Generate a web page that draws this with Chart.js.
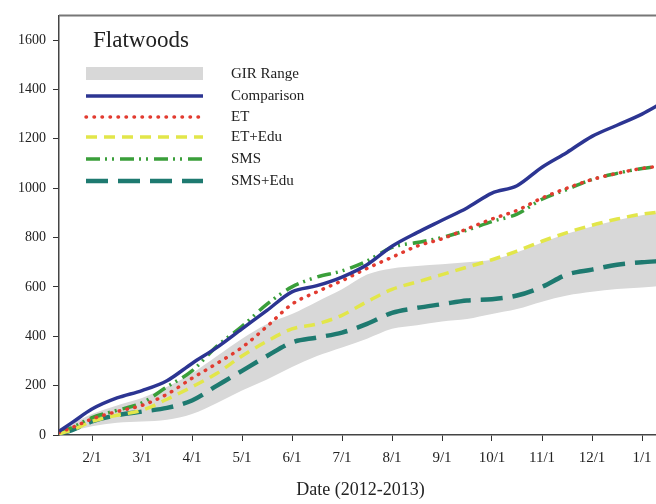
<!DOCTYPE html>
<html>
<head>
<meta charset="utf-8">
<script src="https://cdn.jsdelivr.net/npm/chart.js@4.4.0/dist/chart.umd.min.js"></script>
<style>
  html, body { margin: 0; padding: 0; overflow: hidden; background: #fff; }
  #wrap { width: 662px; height: 504px; position: relative; }
</style>
</head>
<body>
<div id="wrap"><canvas id="chart"></canvas></div>
<script>
// x positions in months after 1/1/2012 (1 = 2/1, 12 = 1/1/2013)
const months = [0.34, 0.6, 1, 1.5, 2, 2.5, 3, 3.5, 4, 4.5, 5, 5.5, 6, 6.5, 7, 7.5, 8, 8.5, 9, 9.5, 10, 10.5, 11, 11.5, 12, 12.4];
const tickLabels = ['2/1', '3/1', '4/1', '5/1', '6/1', '7/1', '8/1', '9/1', '10/1', '11/1', '12/1', '1/1'];

const comparison = [15, 50, 105, 150, 180, 220, 290, 355, 430, 505, 580, 605, 640, 690, 765, 820, 870, 920, 980, 1010, 1085, 1145, 1210, 1255, 1300, 1345];
const et = [10, 30, 65, 95, 120, 165, 230, 290, 355, 440, 530, 580, 625, 675, 720, 765, 795, 835, 875, 910, 960, 1000, 1035, 1060, 1080, 1090];
const etEdu = [5, 20, 55, 80, 100, 145, 195, 250, 320, 380, 430, 450, 485, 540, 590, 620, 650, 680, 710, 745, 785, 820, 850, 875, 895, 905];
const sms = [10, 30, 70, 100, 130, 195, 260, 360, 440, 530, 600, 640, 665, 705, 760, 780, 800, 830, 865, 895, 955, 995, 1035, 1060, 1080, 1090];
const smsEdu = [5, 20, 55, 80, 95, 110, 140, 200, 260, 320, 375, 395, 415, 450, 495, 515, 530, 545, 550, 565, 600, 650, 670, 690, 700, 705];
const girLow = [0, 15, 35, 50, 55, 62, 85, 130, 180, 225, 275, 320, 355, 390, 430, 445, 460, 470, 490, 510, 540, 565, 580, 592, 598, 605];
const girHigh = [20, 45, 85, 120, 150, 195, 250, 320, 390, 450, 490, 540, 590, 650, 675, 685, 692, 700, 710, 740, 780, 815, 845, 870, 890, 905];

const pts = arr => arr.map((v, i) => ({ x: months[i], y: v }));
const serif = '"Liberation Serif", "DejaVu Serif", serif';

const frameAndLegend = {
  id: 'frameAndLegend',
  afterDraw(chart) {
    const { ctx, chartArea: a } = chart;
    ctx.save();
    // top frame line
    ctx.strokeStyle = '#777';
    ctx.lineWidth = 2;
    ctx.beginPath();
    ctx.moveTo(a.left, a.top);
    ctx.lineTo(a.right, a.top);
    ctx.stroke();
    ctx.strokeStyle = '#444';
    ctx.lineWidth = 1.5;
    ctx.beginPath();
    ctx.moveTo(a.right, a.top);
    ctx.lineTo(a.right, a.bottom);
    ctx.stroke();

    // title inside the plot
    ctx.fillStyle = '#222';
    ctx.font = '23px ' + serif;
    ctx.textBaseline = 'middle';
    ctx.textAlign = 'left';
    ctx.fillText('Flatwoods', 93, 41);

    // legend
    const x0 = 86, x1 = 203, tx = 231;
    const rows = [74, 96, 117, 137, 159, 181];
    ctx.font = '15px ' + serif;
    const sets = chart.data.datasets.filter(d => d.inLegend);
    sets.forEach((d, i) => {
      const y = rows[i];
      if (d.legendBox) {
        ctx.fillStyle = d.backgroundColor;
        ctx.fillRect(x0, y - 7, x1 - x0, 13);
      } else {
        ctx.strokeStyle = d.borderColor;
        ctx.lineWidth = d.borderWidth;
        ctx.lineCap = d.borderCapStyle || 'butt';
        ctx.setLineDash(d.borderDash || []);
        ctx.beginPath();
        ctx.moveTo(x0, y);
        ctx.lineTo(x1, y);
        ctx.stroke();
        ctx.setLineDash([]);
      }
      ctx.fillStyle = '#222';
      ctx.fillText(d.label, tx, y);
    });
    ctx.restore();
  }
};

const line = (label, data, color, width, dash, extra) => Object.assign({
  label: label,
  data: pts(data),
  borderColor: color,
  borderWidth: width,
  borderDash: dash,
  fill: false,
  pointRadius: 0,
  tension: 0.4,
  cubicInterpolationMode: 'monotone',
  inLegend: true
}, extra || {});

new Chart(document.getElementById('chart').getContext('2d'), {
  type: 'line',
  data: {
    datasets: [
      {
        label: 'GIR Range',
        data: pts(girHigh),
        borderWidth: 0,
        borderColor: 'rgba(0,0,0,0)',
        backgroundColor: '#d8d8d8',
        fill: 1,
        pointRadius: 0,
        tension: 0.4,
        cubicInterpolationMode: 'monotone',
        order: 10,
        inLegend: true,
        legendBox: true
      },
      {
        label: 'GIR low',
        data: pts(girLow),
        borderWidth: 0,
        borderColor: 'rgba(0,0,0,0)',
        fill: false,
        pointRadius: 0,
        tension: 0.4,
        cubicInterpolationMode: 'monotone',
        order: 11
      },
      line('Comparison', comparison, '#2c3592', 3.5, []),
      line('ET', et, '#e23b30', 3.5, [0.5, 7.5], { borderCapStyle: 'round' }),
      line('ET+Edu', etEdu, '#e2e64a', 3.5, [11, 7]),
      line('SMS', sms, '#3a9f3a', 3.5, [14, 5, 2, 5, 2, 6]),
      line('SMS+Edu', smsEdu, '#1e7a70', 4.5, [22, 10])
    ]
  },
  options: {
    responsive: true,
    maintainAspectRatio: false,
    animation: false,
    layout: { padding: { top: 13, left: 0, right: 0, bottom: 0 } },
    plugins: { legend: { display: false }, tooltip: { enabled: false } },
    scales: {
      x: {
        type: 'linear',
        min: 0.34,
        max: 12.4,
        afterFit: s => { s.height = 69; },
        grid: { display: true, drawOnChartArea: false, drawTicks: true, tickLength: 6, color: '#333' },
        border: { display: true, color: '#444', width: 1.5 },
        ticks: {
          stepSize: 1,
          includeBounds: false,
          padding: 8,
          color: '#222',
          font: { family: serif, size: 15 },
          maxRotation: 0,
          autoSkip: false,
          callback: v => tickLabels[v - 1] || ''
        },
        title: {
          display: true,
          text: 'Date (2012-2013)',
          color: '#222',
          font: { family: serif, size: 18 },
          padding: { top: 0, bottom: 3 }
        }
      },
      y: {
        min: 0,
        max: 1700,
        afterFit: s => { s.width = 59; },
        afterBuildTicks: s => { s.ticks = s.ticks.filter(t => t.value % 200 === 0); },
        grid: { display: true, drawOnChartArea: false, drawTicks: true, tickLength: 6, color: '#333' },
        border: { display: true, color: '#444', width: 1.5 },
        ticks: {
          stepSize: 200,
          includeBounds: false,
          padding: 7,
          color: '#222',
          font: { family: serif, size: 14 },
          callback: v => String(v)
        }
      }
    }
  },
  plugins: [frameAndLegend]
});
</script>
</body>
</html>
